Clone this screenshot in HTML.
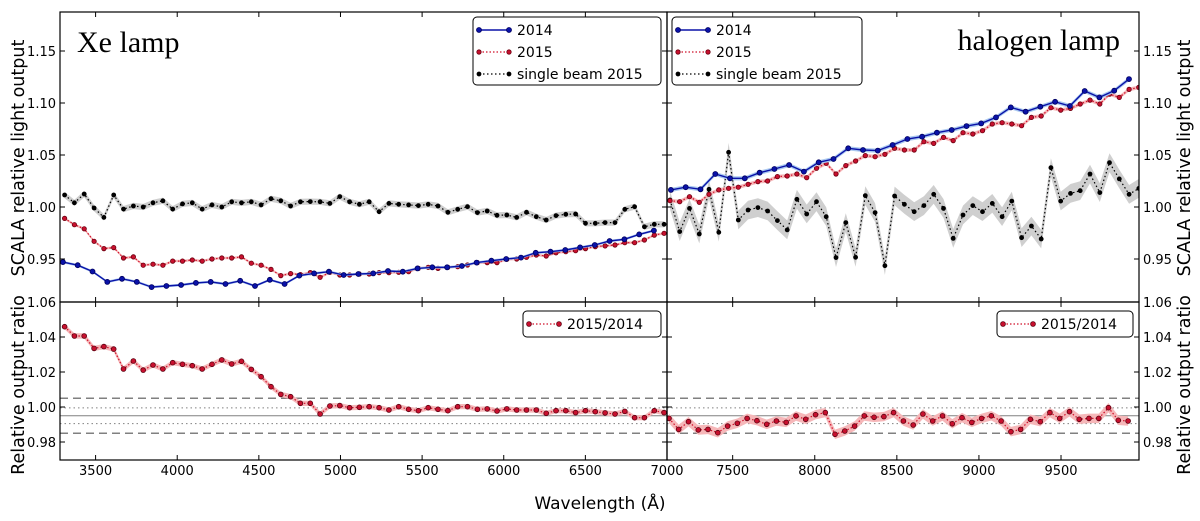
<!DOCTYPE html>
<html><head><meta charset="utf-8"><style>
body{margin:0;background:#fff}
svg{display:block;font-family:"DejaVu Sans","Liberation Sans",sans-serif}
</style></head><body>
<svg id="c" width="1200" height="521" viewBox="0 0 1200 521"></svg>
<script>
// ---- data ----
const xeBlackVals=[1.0115,1.004,1.0125,0.999,0.990,1.0115,0.998,1.001,1.000,1.004,1.006,0.998,1.003,1.004,0.998,1.002,1.000,1.005,1.004,1.005,1.002,1.008,1.006,1.001,1.005,1.0052,1.005,1.0035,1.010,1.005,1.0026,1.005,0.9955,1.0035,1.0026,1.002,1.0013,1.0026,1.001,0.9949,0.9978,1.0003,0.9946,0.9962,0.992,0.9923,0.990,0.9949,0.9907,0.9875,0.9917,0.993,0.9933,0.9843,0.9843,0.985,0.985,0.9978,1.0003,0.981,0.9834,0.9834];
const xeRedVals=[0.989,0.983,0.979,0.967,0.960,0.961,0.951,0.952,0.944,0.945,0.944,0.948,0.948,0.949,0.948,0.950,0.951,0.951,0.952,0.946,0.944,0.940,0.934,0.936,0.935,0.9369,0.9324,0.9372,0.9346,0.9346,0.9356,0.9356,0.9369,0.9369,0.9372,0.9378,0.9410,0.9420,0.941,0.942,0.9426,0.9442,0.9465,0.9465,0.9465,0.9497,0.950,0.9516,0.9538,0.9529,0.956,0.957,0.958,0.960,0.9619,0.9626,0.9635,0.9657,0.9657,0.9683,0.973,0.9747];
const xeBlueVals=[0.947,0.944,0.938,0.928,0.931,0.928,0.923,0.924,0.925,0.927,0.928,0.926,0.929,0.924,0.930,0.926,0.934,0.9362,0.9378,0.9346,0.9356,0.9362,0.9385,0.9378,0.941,0.942,0.942,0.9433,0.9465,0.9484,0.950,0.9513,0.956,0.957,0.9587,0.9612,0.9635,0.9673,0.9689,0.9737,0.9773];
const xeRatioVals=[1.0459,1.0406,1.0406,1.0335,1.0345,1.0331,1.0217,1.0263,1.0211,1.024,1.0217,1.0253,1.0244,1.0236,1.0217,1.0244,1.0269,1.0246,1.0261,1.0215,1.0173,1.0116,1.0072,1.0059,1.0021,1.0021,0.996,1.0006,1.0008,0.9996,0.9998,1.0002,0.9996,0.9983,1.0002,0.9987,0.9979,0.9996,0.9987,0.9979,1.0002,1.0002,0.9987,0.9989,0.9977,0.9989,0.9983,0.9983,0.9983,0.9964,0.9979,0.9979,0.9968,0.9979,0.9973,0.9966,0.996,0.9975,0.9939,0.9939,0.9979,0.9968];
const haBlackVals=[1.0067,0.9763,0.9987,0.974,1.017,0.9757,1.0526,0.9875,0.9971,0.9994,0.9962,0.9869,0.978,1.0074,0.9933,1.0051,0.9907,0.9513,0.985,0.9516,1.011,0.9946,0.9436,1.0106,1.0026,0.9955,1.0013,1.0122,0.9987,0.9698,0.9923,1.0013,0.9955,1.0035,0.9907,1.0057,0.9705,0.9817,0.9692,1.0378,1.0057,1.0131,1.0157,1.0317,1.0138,1.0426,1.027,1.0122,1.0179];
const haRedVals=[1.0061,1.0051,1.0099,1.0045,1.0122,1.0164,1.018,1.019,1.0218,1.0244,1.025,1.0292,1.0298,1.0317,1.0282,1.0372,1.042,1.0317,1.0398,1.0442,1.0494,1.0484,1.0507,1.0564,1.0548,1.0548,1.0628,1.0612,1.0669,1.0638,1.0714,1.0702,1.0734,1.0798,1.0811,1.0798,1.0782,1.0862,1.0875,1.0955,1.0932,1.0948,1.099,1.1028,1.099,1.1086,1.1054,1.1131,1.115];
const haBlueVals=[1.0164,1.019,1.017,1.0317,1.0276,1.0276,1.033,1.0365,1.0404,1.034,1.043,1.0462,1.0564,1.0548,1.0542,1.0596,1.0654,1.0676,1.0714,1.074,1.0778,1.0804,1.0862,1.0958,1.0916,1.0964,1.1012,1.0971,1.1115,1.1054,1.1118,1.123];
const haRatioVals=[0.9935,0.9872,0.9916,0.9869,0.9872,0.9853,0.9891,0.9907,0.9935,0.9922,0.9901,0.992,0.9912,0.9949,0.993,0.9956,0.9968,0.9844,0.9863,0.9891,0.9949,0.9941,0.9945,0.9968,0.992,0.9897,0.996,0.992,0.9949,0.9904,0.9939,0.9912,0.9935,0.995,0.992,0.9859,0.9872,0.993,0.9916,0.9968,0.9935,0.9973,0.993,0.9935,0.9935,0.9996,0.9924,0.992];
const xeFineStart=3310, xeFineStep=60.2, xeBlueStart=3300, xeBlueStep=90.5;
const haFineStart=7118, haFineStep=59.5, haBlueStart=7124, haBlueStep=90.0, haRatioStart=7112;
const xTicksLeft=[3500,4000,4500,5000,5500,6000,6500,7000];
const xTicksRight=[7500,8000,8500,9000,9500];
const yTicksTop=[0.95,1.00,1.05,1.10,1.15];
const yTicksBot=[0.98,1.00,1.02,1.04,1.06];
const refLines=[1.005,0.9995,0.995,0.9905,0.985];

// ---- scales ----
const L={x0:60,x1:667,w0:3282,w1:7000}, R={x0:667,x1:1139,w0:7100,w1:9975};
const TOP={y0:12,y1:302}, BOT={y0:302,y1:460};
const sx=(p,w)=>p.x0+(w-p.w0)*(p.x1-p.x0)/(p.w1-p.w0);
const syT=v=>207-(v-1)*1040;
const syB=v=>407-(v-1)*1750;
const NS='http://www.w3.org/2000/svg';
const svg=document.getElementById('c');
function mk(tag,attrs,parent){const e=document.createElementNS(NS,tag);for(const k in attrs)e.setAttribute(k,attrs[k]);(parent||svg).appendChild(e);return e;}
function waves(n,start,step){const a=[];for(let i=0;i<n;i++)a.push(start+i*step);return a;}

function clip(id,p,Y){const cp=mk('clipPath',{id:id});mk('rect',{x:p.x0,y:Y.y0,width:p.x1-p.x0,height:Y.y1-Y.y0},cp);}
clip('cLT',L,TOP);clip('cRT',R,TOP);clip('cLB',L,BOT);clip('cRB',R,BOT);

function series(name,p,sy,clipId,vals,start,step,err,opt){
  const g=mk('g',{'clip-path':'url(#'+clipId+')'});
  
  
  const ws=waves(vals.length,start,step);
  const pts=ws.map((w,i)=>[sx(p,w),sy(vals[i])]);
  const up=ws.map((w,i)=>sx(p,w).toFixed(1)+','+sy(vals[i]+err).toFixed(1));
  const dn=ws.map((w,i)=>sx(p,w).toFixed(1)+','+sy(vals[i]-err).toFixed(1)).reverse();
  const band=mk('polygon',{points:up.concat(dn).join(' '),fill:opt.band,stroke:'none'},g);
  
  
  const line=mk('polyline',{points:pts.map(q=>q[0].toFixed(1)+','+q[1].toFixed(1)).join(' '),fill:'none',stroke:opt.line,'stroke-width':opt.lw||1.2,'stroke-dasharray':opt.dash||'none'},g);
  
  
  pts.forEach(q=>{
    const m=mk('circle',{cx:q[0].toFixed(1),cy:q[1].toFixed(1),r:opt.r,fill:opt.mf,stroke:opt.ms,'stroke-width':0.8},g);
    
    
  });
}
const BLACK={band:'#cfcfcf',line:'#000',dash:'1.5,2.5',r:2,mf:'#000',ms:'#000'};
const RED={band:'#f6b7b9',line:'#d0102a',dash:'1.5,2',r:2.2,mf:'#c8102e',ms:'#6b0010'};
const BLUE={band:'#a9c8f0',line:'#0a12a8',r:2.5,mf:'#0a12a8',ms:'#000060',lw:1.4};
const RAT={band:'#f6b7b9',line:'#d0102a',dash:'1.5,2',r:2.4,mf:'#c8102e',ms:'#5a0010'};

[[L,'cLB'],[R,'cRB']].forEach(([p,c])=>{
  refLines.forEach((v,i)=>{
    const st=i===2?'none':(i===0||i===4?'8,5':'1.5,3');
    const l=mk('line',{x1:p.x0,x2:p.x1,y1:syB(v),y2:syB(v),stroke:'#808080','stroke-width':i===0||i===4?1.6:1,'stroke-dasharray':st});
    
    
  });
});

series('xe-single-beam-2015',L,syT,'cLT',xeBlackVals,xeFineStart,xeFineStep,0.003,BLACK);
series('xe-2015',L,syT,'cLT',xeRedVals,xeFineStart,xeFineStep,0.0012,RED);
series('xe-2014',L,syT,'cLT',xeBlueVals,xeBlueStart,xeBlueStep,0.0012,BLUE);
series('halogen-single-beam-2015',R,syT,'cRT',haBlackVals,haFineStart,haFineStep,0.009,BLACK);
series('halogen-2015',R,syT,'cRT',haRedVals,haFineStart,haFineStep,0.0018,RED);
series('halogen-2014',R,syT,'cRT',haBlueVals,haBlueStart,haBlueStep,0.002,BLUE);
series('xe-ratio',L,syB,'cLB',xeRatioVals,xeFineStart,xeFineStep,0.0015,RAT);
series('halogen-ratio',R,syB,'cRB',haRatioVals,haRatioStart,haFineStep,0.0027,RAT);

[[L,TOP,'xe-top-frame'],[R,TOP,'halogen-top-frame'],[L,BOT,'xe-ratio-frame'],[R,BOT,'halogen-ratio-frame']].forEach(([p,Y,n])=>{
  const r=mk('rect',{x:p.x0,y:Y.y0,width:p.x1-p.x0,height:Y.y1-Y.y0,fill:'none',stroke:'#000','stroke-width':1.2});
  
  
});

function txt(s,x,y,attrs,name){const t=mk('text',Object.assign({x:x,y:y},attrs));t.textContent=s;return t;}
function xt(p,ticks,labels){ticks.forEach(w=>{const x=sx(p,w);
  [[TOP.y0,TOP.y0+5],[TOP.y1,TOP.y1-5],[BOT.y0,BOT.y0+5],[BOT.y1,BOT.y1-5]].forEach(a=>{const l=mk('line',{x1:x,x2:x,y1:a[0],y2:a[1],stroke:'#000','stroke-width':1});});
  if(labels) txt(String(w),x,475,{'font-size':13,'text-anchor':'middle',fill:'#000'},'x-tick-label');});}
xt(L,xTicksLeft.slice(0,-1),true);
txt('7000',sx(L,7000),475,{'font-size':13,'text-anchor':'middle'},'x-tick-label');
xt(R,xTicksRight,true);
function yt(ticks,sy){ticks.forEach(v=>{const y=sy(v);
  [[L.x0,L.x0+5],[L.x1,L.x1-5],[R.x0,R.x0+5],[R.x1,R.x1-5]].forEach(a=>{const l=mk('line',{x1:a[0],x2:a[1],y1:y,y2:y,stroke:'#000','stroke-width':1});});
  const s=v.toFixed(2);
  txt(s,56,y+5,{'font-size':13,'text-anchor':'end'},'y-tick-label-left');
  txt(s,1143,y+5,{'font-size':13,'text-anchor':'start'},'y-tick-label-right');});}
yt(yTicksTop,syT);
yt(yTicksBot,syB);

txt('SCALA relative light output',0,0,{'font-size':17.5,'text-anchor':'middle',transform:'translate(24,158) rotate(-90)'},'y-axis-title-left-top');
txt('Relative output ratio',0,0,{'font-size':17.5,'text-anchor':'middle',transform:'translate(24,385) rotate(-90)'},'y-axis-title-left-bottom');
txt('SCALA relative light output',0,0,{'font-size':17.5,'text-anchor':'middle',transform:'translate(1190,158) rotate(-90)'},'y-axis-title-right-top');
txt('Relative output ratio',0,0,{'font-size':17.5,'text-anchor':'middle',transform:'translate(1190,385) rotate(-90)'},'y-axis-title-right-bottom');
txt('Wavelength (\u00C5)',600,509,{'font-size':17,'text-anchor':'middle'},'x-axis-title');
txt('Xe lamp',77,52,{'font-size':30,'font-family':'Liberation Serif, serif'},'xe-panel-title');
txt('halogen lamp',1120,50,{'font-size':30,'font-family':'Liberation Serif, serif','text-anchor':'end'},'halogen-panel-title');

function legend(x,y,w,h,entries,name){
  const g=mk('g',{});
  mk('rect',{x:x,y:y,width:w,height:h,rx:4,fill:'#fff',stroke:'#000','stroke-width':1},g);
  entries.forEach((e,i)=>{const cy=y+13+i*22;const o=e[1];
    mk('line',{x1:x+6,x2:x+36,y1:cy,y2:cy,stroke:o.line,'stroke-width':o.lw||1.2,'stroke-dasharray':o.dash||'none'},g);
    [x+6,x+36].forEach(cx=>mk('circle',{cx:cx,cy:cy,r:o.r,fill:o.mf,stroke:o.ms,'stroke-width':0.8},g));
    const t=mk('text',{x:x+44,y:cy+5,'font-size':14},g);t.textContent=e[0];
    });
}
legend(473,17,188,68,[['2014',BLUE],['2015',RED],['single beam 2015',BLACK]],'legend-xe');
legend(672,17,190,68,[['2014',BLUE],['2015',RED],['single beam 2015',BLACK]],'legend-halogen');
legend(523,311,138,26,[['2015/2014',RAT]],'legend-xe-ratio');
legend(997,311,136,26,[['2015/2014',RAT]],'legend-halogen-ratio');
</script>
</body></html>
